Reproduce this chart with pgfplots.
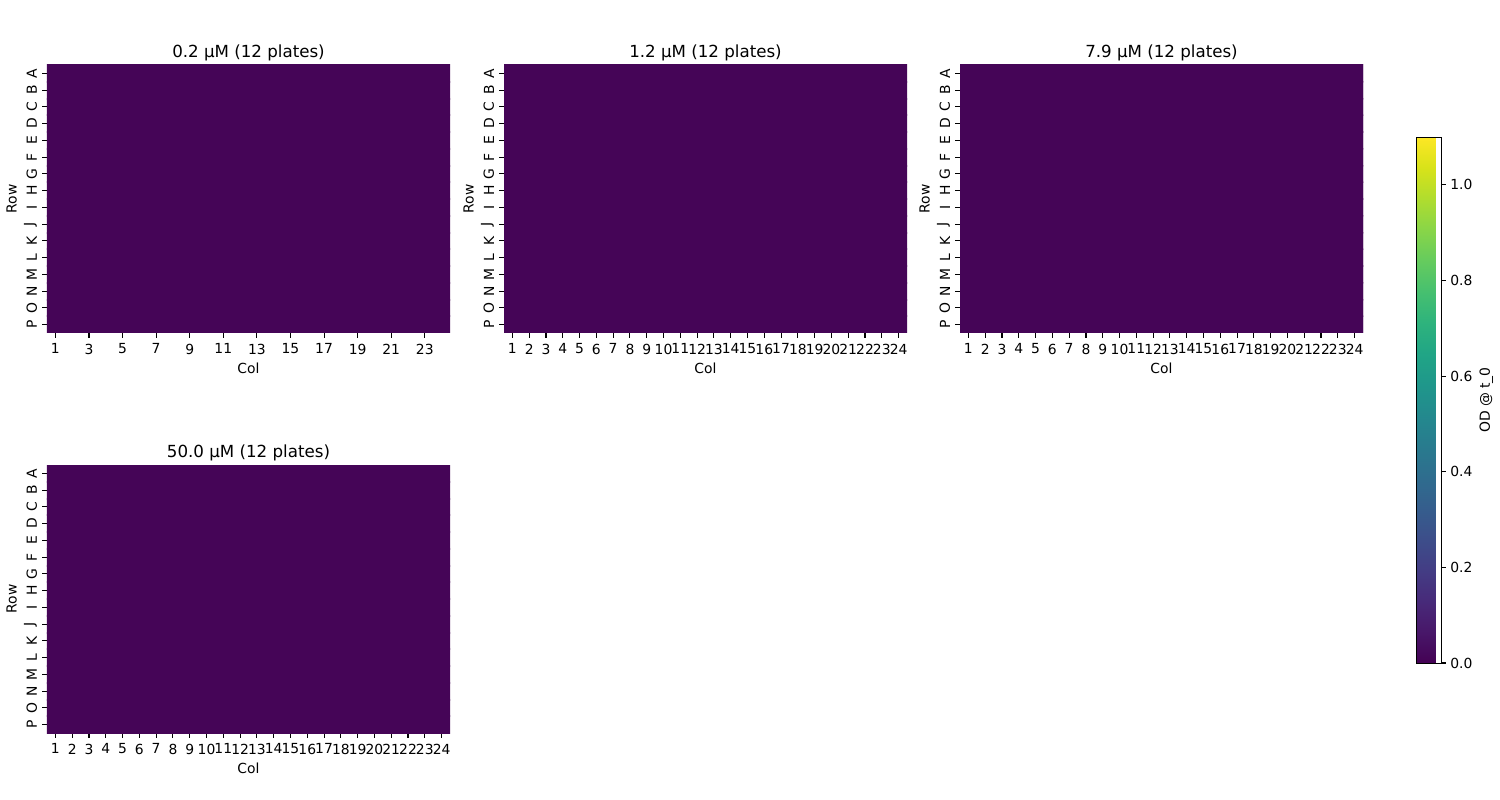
\documentclass[border=0pt]{standalone}
\usepackage{fontspec}
\setmainfont{DejaVu Sans}
\usepackage{pgfplots}
\usepackage{pgfplotstable}
\pgfplotsset{compat=1.18}
\pgfplotstableread[row sep=\\]{
x y c\\
1 1 .01\\ 2 1 .01\\ 3 1 .01\\ 4 1 .01\\ 5 1 .01\\ 6 1 .01\\ 7 1 .01\\ 8 1 .01\\ 9 1 .01\\ 10 1 .01\\ 11 1 .01\\ 12 1 .01\\ 13 1 .01\\ 14 1 .01\\ 15 1 .01\\ 16 1 .01\\ 17 1 .01\\ 18 1 .01\\ 19 1 .01\\ 20 1 .01\\ 21 1 .01\\ 22 1 .01\\ 23 1 .01\\ 24 1 .01\\
1 2 .01\\ 2 2 .01\\ 3 2 .01\\ 4 2 .01\\ 5 2 .01\\ 6 2 .01\\ 7 2 .01\\ 8 2 .01\\ 9 2 .01\\ 10 2 .01\\ 11 2 .01\\ 12 2 .01\\ 13 2 .01\\ 14 2 .01\\ 15 2 .01\\ 16 2 .01\\ 17 2 .01\\ 18 2 .01\\ 19 2 .01\\ 20 2 .01\\ 21 2 .01\\ 22 2 .01\\ 23 2 .01\\ 24 2 .01\\
1 3 .01\\ 2 3 .01\\ 3 3 .01\\ 4 3 .01\\ 5 3 .01\\ 6 3 .01\\ 7 3 .01\\ 8 3 .01\\ 9 3 .01\\ 10 3 .01\\ 11 3 .01\\ 12 3 .01\\ 13 3 .01\\ 14 3 .01\\ 15 3 .01\\ 16 3 .01\\ 17 3 .01\\ 18 3 .01\\ 19 3 .01\\ 20 3 .01\\ 21 3 .01\\ 22 3 .01\\ 23 3 .01\\ 24 3 .01\\
1 4 .01\\ 2 4 .01\\ 3 4 .01\\ 4 4 .01\\ 5 4 .01\\ 6 4 .01\\ 7 4 .01\\ 8 4 .01\\ 9 4 .01\\ 10 4 .01\\ 11 4 .01\\ 12 4 .01\\ 13 4 .01\\ 14 4 .01\\ 15 4 .01\\ 16 4 .01\\ 17 4 .01\\ 18 4 .01\\ 19 4 .01\\ 20 4 .01\\ 21 4 .01\\ 22 4 .01\\ 23 4 .01\\ 24 4 .01\\
1 5 .01\\ 2 5 .01\\ 3 5 .01\\ 4 5 .01\\ 5 5 .01\\ 6 5 .01\\ 7 5 .01\\ 8 5 .01\\ 9 5 .01\\ 10 5 .01\\ 11 5 .01\\ 12 5 .01\\ 13 5 .01\\ 14 5 .01\\ 15 5 .01\\ 16 5 .01\\ 17 5 .01\\ 18 5 .01\\ 19 5 .01\\ 20 5 .01\\ 21 5 .01\\ 22 5 .01\\ 23 5 .01\\ 24 5 .01\\
1 6 .01\\ 2 6 .01\\ 3 6 .01\\ 4 6 .01\\ 5 6 .01\\ 6 6 .01\\ 7 6 .01\\ 8 6 .01\\ 9 6 .01\\ 10 6 .01\\ 11 6 .01\\ 12 6 .01\\ 13 6 .01\\ 14 6 .01\\ 15 6 .01\\ 16 6 .01\\ 17 6 .01\\ 18 6 .01\\ 19 6 .01\\ 20 6 .01\\ 21 6 .01\\ 22 6 .01\\ 23 6 .01\\ 24 6 .01\\
1 7 .01\\ 2 7 .01\\ 3 7 .01\\ 4 7 .01\\ 5 7 .01\\ 6 7 .01\\ 7 7 .01\\ 8 7 .01\\ 9 7 .01\\ 10 7 .01\\ 11 7 .01\\ 12 7 .01\\ 13 7 .01\\ 14 7 .01\\ 15 7 .01\\ 16 7 .01\\ 17 7 .01\\ 18 7 .01\\ 19 7 .01\\ 20 7 .01\\ 21 7 .01\\ 22 7 .01\\ 23 7 .01\\ 24 7 .01\\
1 8 .01\\ 2 8 .01\\ 3 8 .01\\ 4 8 .01\\ 5 8 .01\\ 6 8 .01\\ 7 8 .01\\ 8 8 .01\\ 9 8 .01\\ 10 8 .01\\ 11 8 .01\\ 12 8 .01\\ 13 8 .01\\ 14 8 .01\\ 15 8 .01\\ 16 8 .01\\ 17 8 .01\\ 18 8 .01\\ 19 8 .01\\ 20 8 .01\\ 21 8 .01\\ 22 8 .01\\ 23 8 .01\\ 24 8 .01\\
1 9 .01\\ 2 9 .01\\ 3 9 .01\\ 4 9 .01\\ 5 9 .01\\ 6 9 .01\\ 7 9 .01\\ 8 9 .01\\ 9 9 .01\\ 10 9 .01\\ 11 9 .01\\ 12 9 .01\\ 13 9 .01\\ 14 9 .01\\ 15 9 .01\\ 16 9 .01\\ 17 9 .01\\ 18 9 .01\\ 19 9 .01\\ 20 9 .01\\ 21 9 .01\\ 22 9 .01\\ 23 9 .01\\ 24 9 .01\\
1 10 .01\\ 2 10 .01\\ 3 10 .01\\ 4 10 .01\\ 5 10 .01\\ 6 10 .01\\ 7 10 .01\\ 8 10 .01\\ 9 10 .01\\ 10 10 .01\\ 11 10 .01\\ 12 10 .01\\ 13 10 .01\\ 14 10 .01\\ 15 10 .01\\ 16 10 .01\\ 17 10 .01\\ 18 10 .01\\ 19 10 .01\\ 20 10 .01\\ 21 10 .01\\ 22 10 .01\\ 23 10 .01\\ 24 10 .01\\
1 11 .01\\ 2 11 .01\\ 3 11 .01\\ 4 11 .01\\ 5 11 .01\\ 6 11 .01\\ 7 11 .01\\ 8 11 .01\\ 9 11 .01\\ 10 11 .01\\ 11 11 .01\\ 12 11 .01\\ 13 11 .01\\ 14 11 .01\\ 15 11 .01\\ 16 11 .01\\ 17 11 .01\\ 18 11 .01\\ 19 11 .01\\ 20 11 .01\\ 21 11 .01\\ 22 11 .01\\ 23 11 .01\\ 24 11 .01\\
1 12 .01\\ 2 12 .01\\ 3 12 .01\\ 4 12 .01\\ 5 12 .01\\ 6 12 .01\\ 7 12 .01\\ 8 12 .01\\ 9 12 .01\\ 10 12 .01\\ 11 12 .01\\ 12 12 .01\\ 13 12 .01\\ 14 12 .01\\ 15 12 .01\\ 16 12 .01\\ 17 12 .01\\ 18 12 .01\\ 19 12 .01\\ 20 12 .01\\ 21 12 .01\\ 22 12 .01\\ 23 12 .01\\ 24 12 .01\\
1 13 .01\\ 2 13 .01\\ 3 13 .01\\ 4 13 .01\\ 5 13 .01\\ 6 13 .01\\ 7 13 .01\\ 8 13 .01\\ 9 13 .01\\ 10 13 .01\\ 11 13 .01\\ 12 13 .01\\ 13 13 .01\\ 14 13 .01\\ 15 13 .01\\ 16 13 .01\\ 17 13 .01\\ 18 13 .01\\ 19 13 .01\\ 20 13 .01\\ 21 13 .01\\ 22 13 .01\\ 23 13 .01\\ 24 13 .01\\
1 14 .01\\ 2 14 .01\\ 3 14 .01\\ 4 14 .01\\ 5 14 .01\\ 6 14 .01\\ 7 14 .01\\ 8 14 .01\\ 9 14 .01\\ 10 14 .01\\ 11 14 .01\\ 12 14 .01\\ 13 14 .01\\ 14 14 .01\\ 15 14 .01\\ 16 14 .01\\ 17 14 .01\\ 18 14 .01\\ 19 14 .01\\ 20 14 .01\\ 21 14 .01\\ 22 14 .01\\ 23 14 .01\\ 24 14 .01\\
1 15 .01\\ 2 15 .01\\ 3 15 .01\\ 4 15 .01\\ 5 15 .01\\ 6 15 .01\\ 7 15 .01\\ 8 15 .01\\ 9 15 .01\\ 10 15 .01\\ 11 15 .01\\ 12 15 .01\\ 13 15 .01\\ 14 15 .01\\ 15 15 .01\\ 16 15 .01\\ 17 15 .01\\ 18 15 .01\\ 19 15 .01\\ 20 15 .01\\ 21 15 .01\\ 22 15 .01\\ 23 15 .01\\ 24 15 .01\\
1 16 .01\\ 2 16 .01\\ 3 16 .01\\ 4 16 .01\\ 5 16 .01\\ 6 16 .01\\ 7 16 .01\\ 8 16 .01\\ 9 16 .01\\ 10 16 .01\\ 11 16 .01\\ 12 16 .01\\ 13 16 .01\\ 14 16 .01\\ 15 16 .01\\ 16 16 .01\\ 17 16 .01\\ 18 16 .01\\ 19 16 .01\\ 20 16 .01\\ 21 16 .01\\ 22 16 .01\\ 23 16 .01\\ 24 16 .01\\
}\plate

\pgfplotsset{
  plate/.style={
    scale only axis, width=290.16pt, height=192.96pt, anchor=south west,
    xmin=0.5, xmax=24.5, ymin=0.5, ymax=16.5, y dir=reverse,
    enlargelimits=false,
    clip marker paths=true,
    axis line style={draw=none},
    tick align=outside, xtick pos=bottom, ytick pos=left,
    major tick length=3.5pt, tick style={black, line width=0.8pt},
    xtick={1,...,24},
    ytick={1,...,16},
    yticklabel style={rotate=90, anchor=south, inner sep=3.5pt},
    yticklabels={A,B,C,D,E,F,G,H,I,J,K,L,M,N,O,P},
    xticklabel style={inner sep=4pt},
    xlabel={Col}, ylabel={Row},
    xlabel style={inner sep=2pt},
    ylabel style={inner sep=1.5pt},
    colormap/viridis, point meta min=0, point meta max=1.1,
    ticklabel style={font=\fontsize{10}{12}\selectfont},
    label style={font=\fontsize{10}{12}\selectfont},
    title style={font=\fontsize{12}{14}\selectfont, yshift=-6.5pt},
    /pgf/number format/assume math mode=true,
  },
  hmcell/.style={scatter, only marks, mark=square*, mark size=6.4pt,
    point meta=explicit,
    scatter/use mapped color={draw=mapped color, fill=mapped color},
    mark options={line width=0.5pt}},
}

\begin{document}
\begin{tikzpicture}
\useasboundingbox (0,0) rectangle (1080pt,576pt);

\begin{axis}[at={(1019.52pt,98.64pt)}, anchor=south west, scale only axis,
  width=1pt, height=378.72pt, hide axis,
  xmin=0, xmax=1, ymin=0, ymax=1,
  colormap/viridis, point meta min=0, point meta max=1.1,
  colorbar,
  colorbar style={
    at={(0,0)}, anchor=south west,
    width=18pt, height=378.72pt,
    ytick={0,0.2,0.4,0.6,0.8,1.0},
    yticklabels={0.0,0.2,0.4,0.6,0.8,1.0},
    ytick pos=right, yticklabel pos=right,
    xtick=\empty,
    tick align=outside, major tick length=3.5pt,
    tick style={black, line width=0.8pt},
    axis line style={line width=0.6pt},
    yticklabel style={font=\fontsize{10}{12}\selectfont, inner sep=3pt},
    ylabel={OD @ t\_0},
    ylabel style={font=\fontsize{10}{12}\selectfont, inner sep=2pt},
    /pgf/number format/assume math mode=true,
  }]
\addplot[draw=none, mesh/check=false] coordinates {(0,0)};
\end{axis}

\begin{axis}[plate, at={(33.84pt,336.24pt)}, xtick={1,3,...,23}, title={0.2 μM (12 plates)}]
\addplot[hmcell] table[x=x, y=y, meta=c] {\plate};
\end{axis}

\begin{axis}[plate, at={(362.88pt,336.24pt)}, title={1.2 μM (12 plates)}]
\addplot[hmcell] table[x=x, y=y, meta=c] {\plate};
\end{axis}

\begin{axis}[plate, at={(691.2pt,336.24pt)}, title={7.9 μM (12 plates)}]
\addplot[hmcell] table[x=x, y=y, meta=c] {\plate};
\end{axis}

\begin{axis}[plate, at={(33.84pt,48.24pt)}, title={50.0 μM (12 plates)}]
\addplot[hmcell] table[x=x, y=y, meta=c] {\plate};
\end{axis}
\end{tikzpicture}
\end{document}
